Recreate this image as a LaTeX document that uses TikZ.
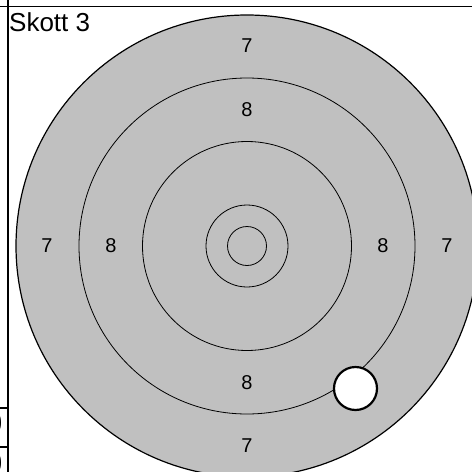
\documentclass[tikz,border=0pt]{standalone}
\usepackage{fontspec}
\setmainfont{Liberation Sans}
\usetikzlibrary{positioning}
\definecolor{TargetGray}{RGB}{192,192,192}

\tikzset{
  ring/.style={draw, line width=0.8pt},
  score/.style={font=\fontsize{20}{24}\selectfont, inner sep=0pt},
  gridline/.style={line width=1.4pt}
}

\begin{document}
\begin{tikzpicture}[x=1pt,y=-1pt, every node/.style={inner sep=0pt}]
  \useasboundingbox (0,0) rectangle (472,472);
  \clip (0,0) rectangle (472,472);
  % table lines
  \draw[gridline] (0,6.5) -- (472,6.5);
  \draw[gridline] (8,0) -- (8,472);
  \draw[gridline] (0,408) -- (8,408);
  \draw[gridline] (0,447) -- (8,447);
  \node[anchor=east, font=\fontsize{30}{36}\selectfont] (cellA) at (2.5,423) {0};
  \node[anchor=east, font=\fontsize{30}{36}\selectfont] (cellB) at (2.5,463) {0};
  \node[anchor=base west, font=\fontsize{26}{30}\selectfont] (title) at (9,31) {Skott 3};
  % target
  \coordinate (c) at (247,246);
  \fill[TargetGray] (c) circle[radius=231pt];
  \draw[line width=1.2pt] (c) circle[radius=231pt];
  \foreach \r in {168,104.5,41,19.5}
    \draw[ring] (c) circle[radius=\r pt];
  % scores
  \node[score] (s7w) at (47,246) {7};
  \node[score] (s8w) at (111,246) {8};
  \node[score] (s8e) at (383,246) {8};
  \node[score] (s7e) at (447,246) {7};
  \node[score] (s7n) at (247,46) {7};
  \node[score] (s8n) at (247,110) {8};
  \node[score] (s8s) at (247,383) {8};
  \node[score] (s7s) at (247,446) {7};
  % shot
  \node[circle, draw, line width=2.2pt, fill=white, minimum size=43pt] (hole) at (355.5,388.5) {};
\end{tikzpicture}
\end{document}
